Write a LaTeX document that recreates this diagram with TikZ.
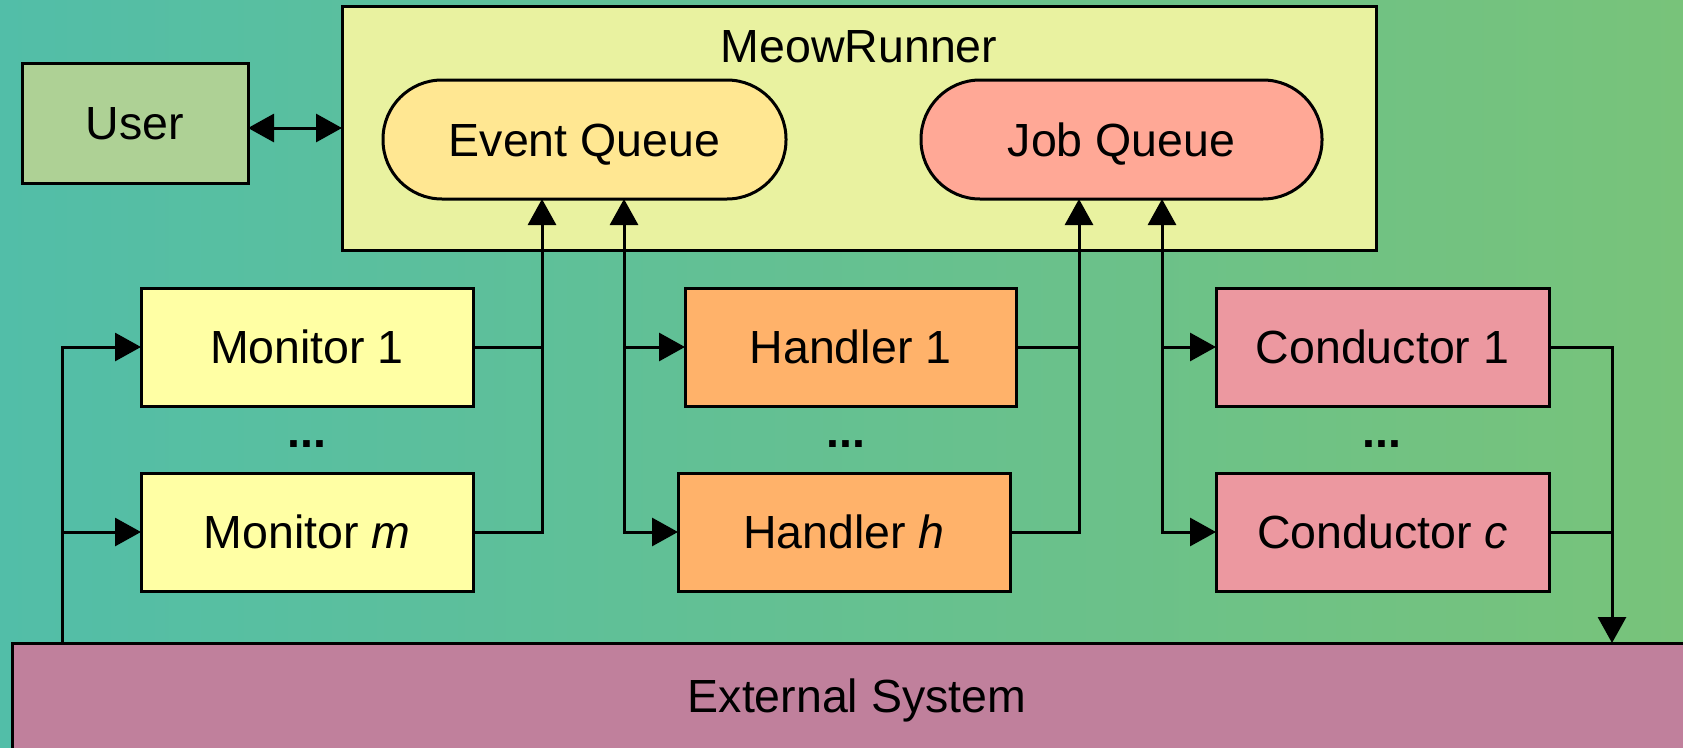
\documentclass[tikz,border=0pt]{standalone}
\usepackage{fontspec}
\setmainfont{Liberation Sans}
\usetikzlibrary{arrows.meta}
\definecolor{bgL}{RGB}{82,190,168}
\definecolor{bgR}{RGB}{120,195,122}
\definecolor{userc}{RGB}{174,209,149}
\definecolor{runnerc}{RGB}{233,242,160}
\definecolor{eventc}{RGB}{255,231,146}
\definecolor{jobc}{RGB}{255,168,150}
\definecolor{monc}{RGB}{255,255,164}
\definecolor{handc}{RGB}{255,178,106}
\definecolor{condc}{RGB}{236,152,160}
\definecolor{extc}{RGB}{192,128,156}
\tikzset{
  box/.style={draw=black, line width=3pt, rectangle, inner sep=0pt, outer sep=0pt,
    font=\fontsize{46.5}{55}\selectfont, text height=33pt, text depth=0pt},
  pill/.style={box, rounded corners=59pt},
  wire/.style={line width=3pt, black},
  tip/.tip={Triangle[length=26pt,width=28pt]},
  dots/.style={font=\fontsize{46.5}{55}\selectfont\bfseries, anchor=base, inner sep=0pt},
}
\begin{document}
\begin{tikzpicture}[x=1pt,y=-1pt]
\useasboundingbox (0,0) rectangle (1683,747);
\clip (0,0) rectangle (1683,747);
\shade[left color=bgL, right color=bgR] (0,0) rectangle (1683,747);

\node[box, fill=runnerc, minimum width=1034pt, minimum height=244pt] (runner) at (859,128) {};
\node[box, draw=none] (runnerlabel) at (859,45.5) {MeowRunner};
\node[box, fill=userc, minimum width=226pt, minimum height=120pt] (user) at (135,123) {User};
\node[pill, fill=eventc, minimum width=403pt, minimum height=119pt] (eventq) at (584.5,139.5) {Event Queue};
\node[pill, fill=jobc, minimum width=401pt, minimum height=119pt] (jobq) at (1121.5,139.5) {Job Queue};

\node[box, fill=monc, minimum width=332pt, minimum height=118pt] (mon1) at (307,347) {Monitor 1};
\node[box, fill=monc, minimum width=332pt, minimum height=118pt] (monm) at (307,532) {Monitor \textit{m}};
\node[box, fill=handc, minimum width=331pt, minimum height=118pt] (hand1) at (850.5,347) {Handler 1};
\node[box, fill=handc, minimum width=332pt, minimum height=118pt] (handh) at (844,532) {Handler \textit{h}};
\node[box, fill=condc, minimum width=333pt, minimum height=118pt] (cond1) at (1382.5,347) {Conductor 1};
\node[box, fill=condc, minimum width=333pt, minimum height=118pt] (condcc) at (1382.5,532) {Conductor \textit{c}};

\node[dots] (dm) at (307,447) {...};
\node[dots] (dh) at (846,447) {...};
\node[dots] (dc) at (1382,447) {...};

\node[box, fill=extc, minimum width=1690pt, minimum height=106pt] (ext) at (857,696) {External System};

\coordinate (lx) at (62,0);
\coordinate (mx) at (542,0);
\coordinate (hx) at (624,0);
\coordinate (jx) at (1079,0);
\coordinate (kx) at (1162,0);
\coordinate (rx) at (1612,0);

% user <-> runner
\draw[wire, {tip}-{tip}] (user.east |- runner.west) -- (runner.west);
% left bus
\draw[wire, -{tip}] (ext.north -| lx) |- (mon1.west);
\draw[wire, -{tip}] (lx |- monm.west) -- (monm.west);
% monitors -> event queue
\draw[wire, -{tip}] (monm.east) -| (eventq.south -| mx);
\draw[wire] (mon1.east) -- (mon1.east -| mx);
% event queue <-> handlers
\draw[wire, {tip}-{tip}] (eventq.south -| hx) |- (handh.west);
\draw[wire, -{tip}] (hx |- hand1.west) -- (hand1.west);
% handlers -> job queue
\draw[wire, -{tip}] (handh.east) -| (jobq.south -| jx);
\draw[wire] (hand1.east) -- (hand1.east -| jx);
% job queue <-> conductors
\draw[wire, {tip}-{tip}] (jobq.south -| kx) |- (condcc.west);
\draw[wire, -{tip}] (kx |- cond1.west) -- (cond1.west);
% conductors -> external
\draw[wire, -{tip}] (cond1.east) -| (ext.north -| rx);
\draw[wire] (condcc.east) -- (condcc.east -| rx);
\end{tikzpicture}
\end{document}
